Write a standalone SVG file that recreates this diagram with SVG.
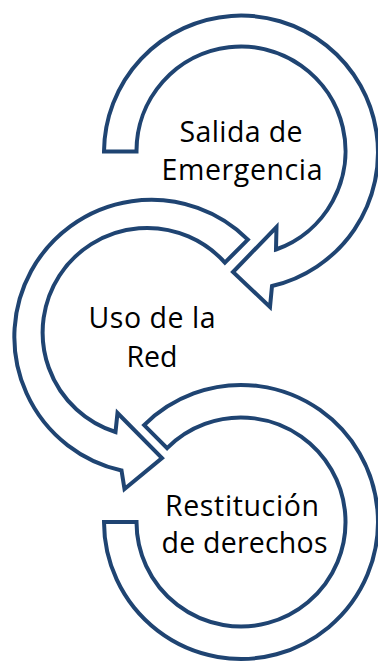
<svg xmlns="http://www.w3.org/2000/svg" width="378" height="661" viewBox="0 0 378 661">
<style>
.arr{fill:#fff;stroke:#1F4472;stroke-width:4;stroke-linejoin:miter}
.t{font-family:"Open Sans","Liberation Sans",sans-serif;font-size:28.5px;fill:#000;text-anchor:middle}
</style>
<rect width="378" height="661" fill="#fff"/>
<g id="connectors"/>
<g id="node3">
<path class="arr" d="M144.1,425.1 A137,137 0 1 1 104,522 L136.5,522 A104.5,104.5 0 1 0 167.1,448.1 Z"/>
<text class="t" x="242" y="515.7" textLength="154">Restitución</text>
<text class="t" x="244.5" y="553.3" textLength="166">de derechos</text>
</g>
<g id="node2">
<path class="arr" d="M247.9,239.6 A137,137 0 1 0 121.5,470.5 L124.5,489 L162,458 L117.5,413 L115.5,432 A104.5,104.5 0 1 1 224.9,262.6 Z"/>
<text class="t" x="152" y="328.3" textLength="127">Uso de la</text>
<text class="t" x="152" y="366.7" textLength="51">Red</text>
</g>
<g id="node1">
<path class="arr" d="M104,151.5 A137,137 0 1 1 272,286 L270,307 L233,272 L276.5,227 L276,249.5 A104.5,104.5 0 1 0 136.5,151.5 Z"/>
<text class="t" x="241" y="141.7" textLength="123">Salida de</text>
<text class="t" x="242" y="180" textLength="161">Emergencia</text>
</g>
</svg>
